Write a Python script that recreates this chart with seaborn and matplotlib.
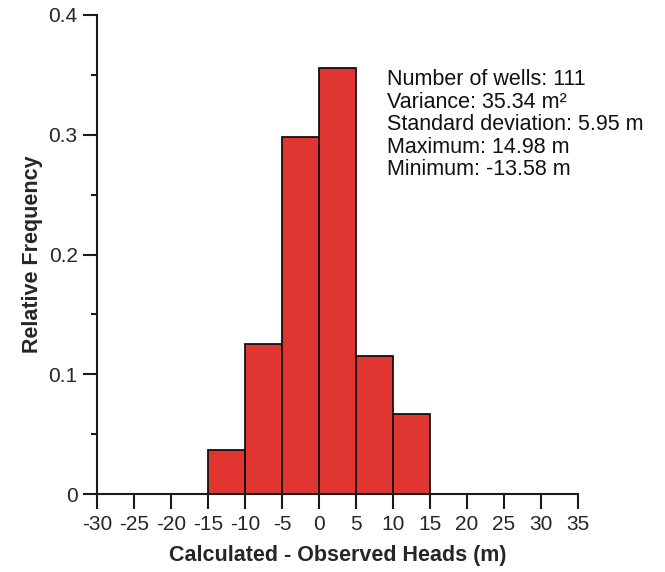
import matplotlib
matplotlib.use("Agg")
import matplotlib.pyplot as plt
from matplotlib.ticker import MultipleLocator, FixedLocator, FixedFormatter
import seaborn as sns
import numpy as np

# histogram: 5 m bins from -15 to 15
bin_edges = [-15, -10, -5, 0, 5, 10, 15]
bin_centers = [-12.5, -7.5, -2.5, 2.5, 7.5, 12.5]
rel_freq = [0.037, 0.125, 0.298, 0.356, 0.115, 0.067]

x_ticks = list(range(-30, 40, 5))
y_ticks = [0, 0.1, 0.2, 0.3, 0.4]
y_tick_labels = ['0', '0.1', '0.2', '0.3', '0.4']
stats_lines = ['Number of wells: 111',
               'Variance: 35.34 m\u00b2',
               'Standard deviation: 5.95 m',
               'Maximum: 14.98 m',
               'Minimum: -13.58 m']

sns.set_style("ticks")
plt.rcParams['font.family'] = ['Liberation Sans', 'DejaVu Sans']
plt.rcParams['axes.unicode_minus'] = False

fig = plt.figure(figsize=(6.65, 5.72), dpi=100)
ax = fig.add_axes([0.146, 0.136, 0.723, 0.838])

sns.histplot(x=bin_centers, weights=rel_freq, bins=bin_edges, ax=ax,
             color='#e03530', alpha=1, edgecolor='#111111', linewidth=1.3)

ax.set_xlim(-30, 35)
ax.set_ylim(0, 0.4)
ax.xaxis.set_major_locator(FixedLocator(x_ticks))
ax.yaxis.set_major_locator(FixedLocator(y_ticks))
ax.yaxis.set_major_formatter(FixedFormatter(y_tick_labels))
ax.yaxis.set_minor_locator(MultipleLocator(0.05))

for side in ['top', 'right']:
    ax.spines[side].set_visible(False)
for side in ['left', 'bottom']:
    ax.spines[side].set_linewidth(1.5)
    ax.spines[side].set_color('#1a1a1a')

ax.tick_params(axis='x', which='major', length=11, width=1.5, color='#1a1a1a',
               labelsize=15, pad=4)
ax.tick_params(axis='y', which='major', length=10, width=1.5, color='#1a1a1a',
               labelsize=15, pad=4)
ax.tick_params(axis='y', which='minor', length=4.5, width=1.5, color='#1a1a1a')

ax.set_xlabel('Calculated - Observed Heads (m)', fontsize=15.5, fontweight='bold', labelpad=8)
ax.set_ylabel('Relative Frequency', fontsize=15.5, fontweight='bold', labelpad=4)

ax.text(0.603, 0.887, '\n'.join(stats_lines), transform=ax.transAxes,
        fontsize=15.5, va='top', ha='left', linespacing=1.1, color='#111111')

fig.savefig('out.png', dpi=100)
